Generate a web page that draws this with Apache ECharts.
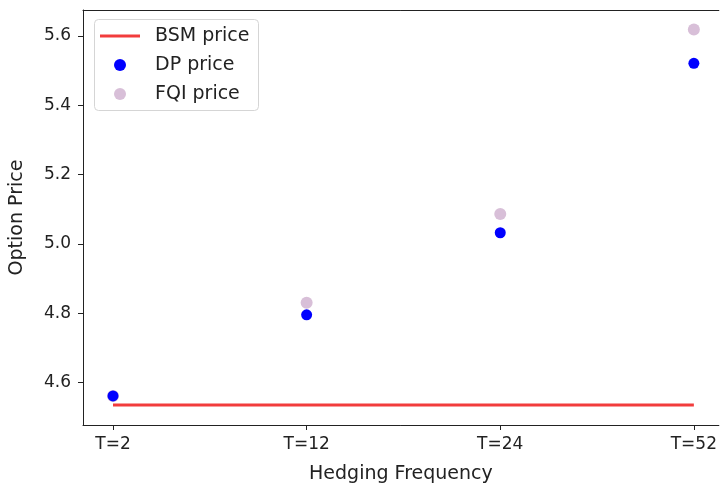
<!DOCTYPE html>
<html>
<head>
<meta charset="utf-8">
<script src="https://cdn.jsdelivr.net/npm/echarts@6/dist/echarts.min.js"></script>
<style>html,body{margin:0;padding:0;background:#fff}#c{width:720px;height:485px}</style>
</head>
<body>
<div id="c"></div>
<script>
const categories = ['T=2', 'T=12', 'T=24', 'T=52'];
const bsmPrice = [4.535, 4.535, 4.535, 4.535];
const dpPrice = [4.561, 4.795, 5.032, 5.521];
const fqiPrice = [4.561, 4.830, 5.086, 5.619];
const yTicks = [4.6, 4.8, 5.0, 5.2, 5.4, 5.6];

// category positions 1..4 on a value axis
const xIdx = categories.map((c, i) => i + 1);
const pairs = arr => arr.map((v, i) => [i + 1, v]);
const font = 'DejaVu Sans';
const ink = '#222';
const chart = echarts.init(document.getElementById('c'), null, {renderer: 'canvas'});
chart.setOption({
  animation: false,
  backgroundColor: '#fff',
  grid: {left: 83, right: 0, top: 10, bottom: 60, show: false, outerBoundsContain: 'axisLabel'},
  xAxis: [{
    type: 'value', min: 0.845, max: 4.129, position: 'bottom',
    name: 'Hedging Frequency', nameLocation: 'middle', nameGap: 40,
    nameTextStyle: {fontFamily: font, fontSize: 19, color: ink},
    axisLine: {show: true, lineStyle: {color: ink, width: 1}},
    splitLine: {show: false},
    axisTick: {show: true, length: 5, inside: false, lineStyle: {color: ink, width: 1}, customValues: xIdx},
    axisLabel: {fontFamily: font, fontSize: 17, color: ink, margin: 11, customValues: xIdx,
      formatter: v => categories[Math.round(v) - 1]}
  }, {
    type: 'value', min: 0.845, max: 4.129, position: 'top',
    axisLine: {show: true, lineStyle: {color: ink, width: 1}},
    splitLine: {show: false}, axisTick: {show: false}, axisLabel: {show: false}
  }],
  yAxis: {
    type: 'value', min: 4.477, max: 5.675,
    name: 'Option Price', nameLocation: 'middle', nameGap: 56, nameRotate: 90,
    nameTextStyle: {fontFamily: font, fontSize: 19, color: ink},
    axisLine: {show: true, lineStyle: {color: ink, width: 1}},
    splitLine: {show: false},
    axisTick: {show: true, length: 5, inside: false, lineStyle: {color: ink, width: 1}, customValues: yTicks},
    axisLabel: {fontFamily: font, fontSize: 17, color: ink, margin: 12, customValues: yTicks,
      formatter: v => v.toFixed(1)}
  },
  graphic: [{
    type: 'rect', left: 94, top: 19, z: 90,
    shape: {width: 164, height: 91, r: 4},
    style: {fill: 'rgba(255,255,255,0.85)', stroke: '#d5d5d5', lineWidth: 1}
  }],
  legend: [{
    orient: 'vertical', left: 100, top: 26.5, z: 100,
    itemWidth: 40, itemHeight: 3, padding: 0,
    textStyle: {fontFamily: font, fontSize: 19, color: ink, padding: [0, 0, 0, 10]},
    data: [{name: 'BSM price', icon: 'rect'}]
  }, {
    orient: 'vertical', left: 114, top: 55.5, z: 100,
    itemWidth: 12, itemHeight: 12, itemGap: 10, padding: 0,
    textStyle: {fontFamily: font, fontSize: 19, color: ink, padding: [0, 0, 0, 24]},
    data: [{name: 'DP price', icon: 'circle'}, {name: 'FQI price', icon: 'circle'}]
  }],
  series: [
    {name: 'BSM price', type: 'line', data: pairs(bsmPrice), symbol: 'none',
      lineStyle: {color: '#f23c3c', width: 3}, itemStyle: {color: '#f23c3c'}, z: 2},
    {name: 'FQI price', type: 'scatter', data: pairs(fqiPrice), symbolSize: 12,
      itemStyle: {color: '#d8bfd8', opacity: 1}, z: 3},
    {name: 'DP price', type: 'scatter', data: pairs(dpPrice), symbolSize: 11,
      itemStyle: {color: '#0000ff', opacity: 1}, z: 4}
  ]
});
</script>
</body>
</html>
